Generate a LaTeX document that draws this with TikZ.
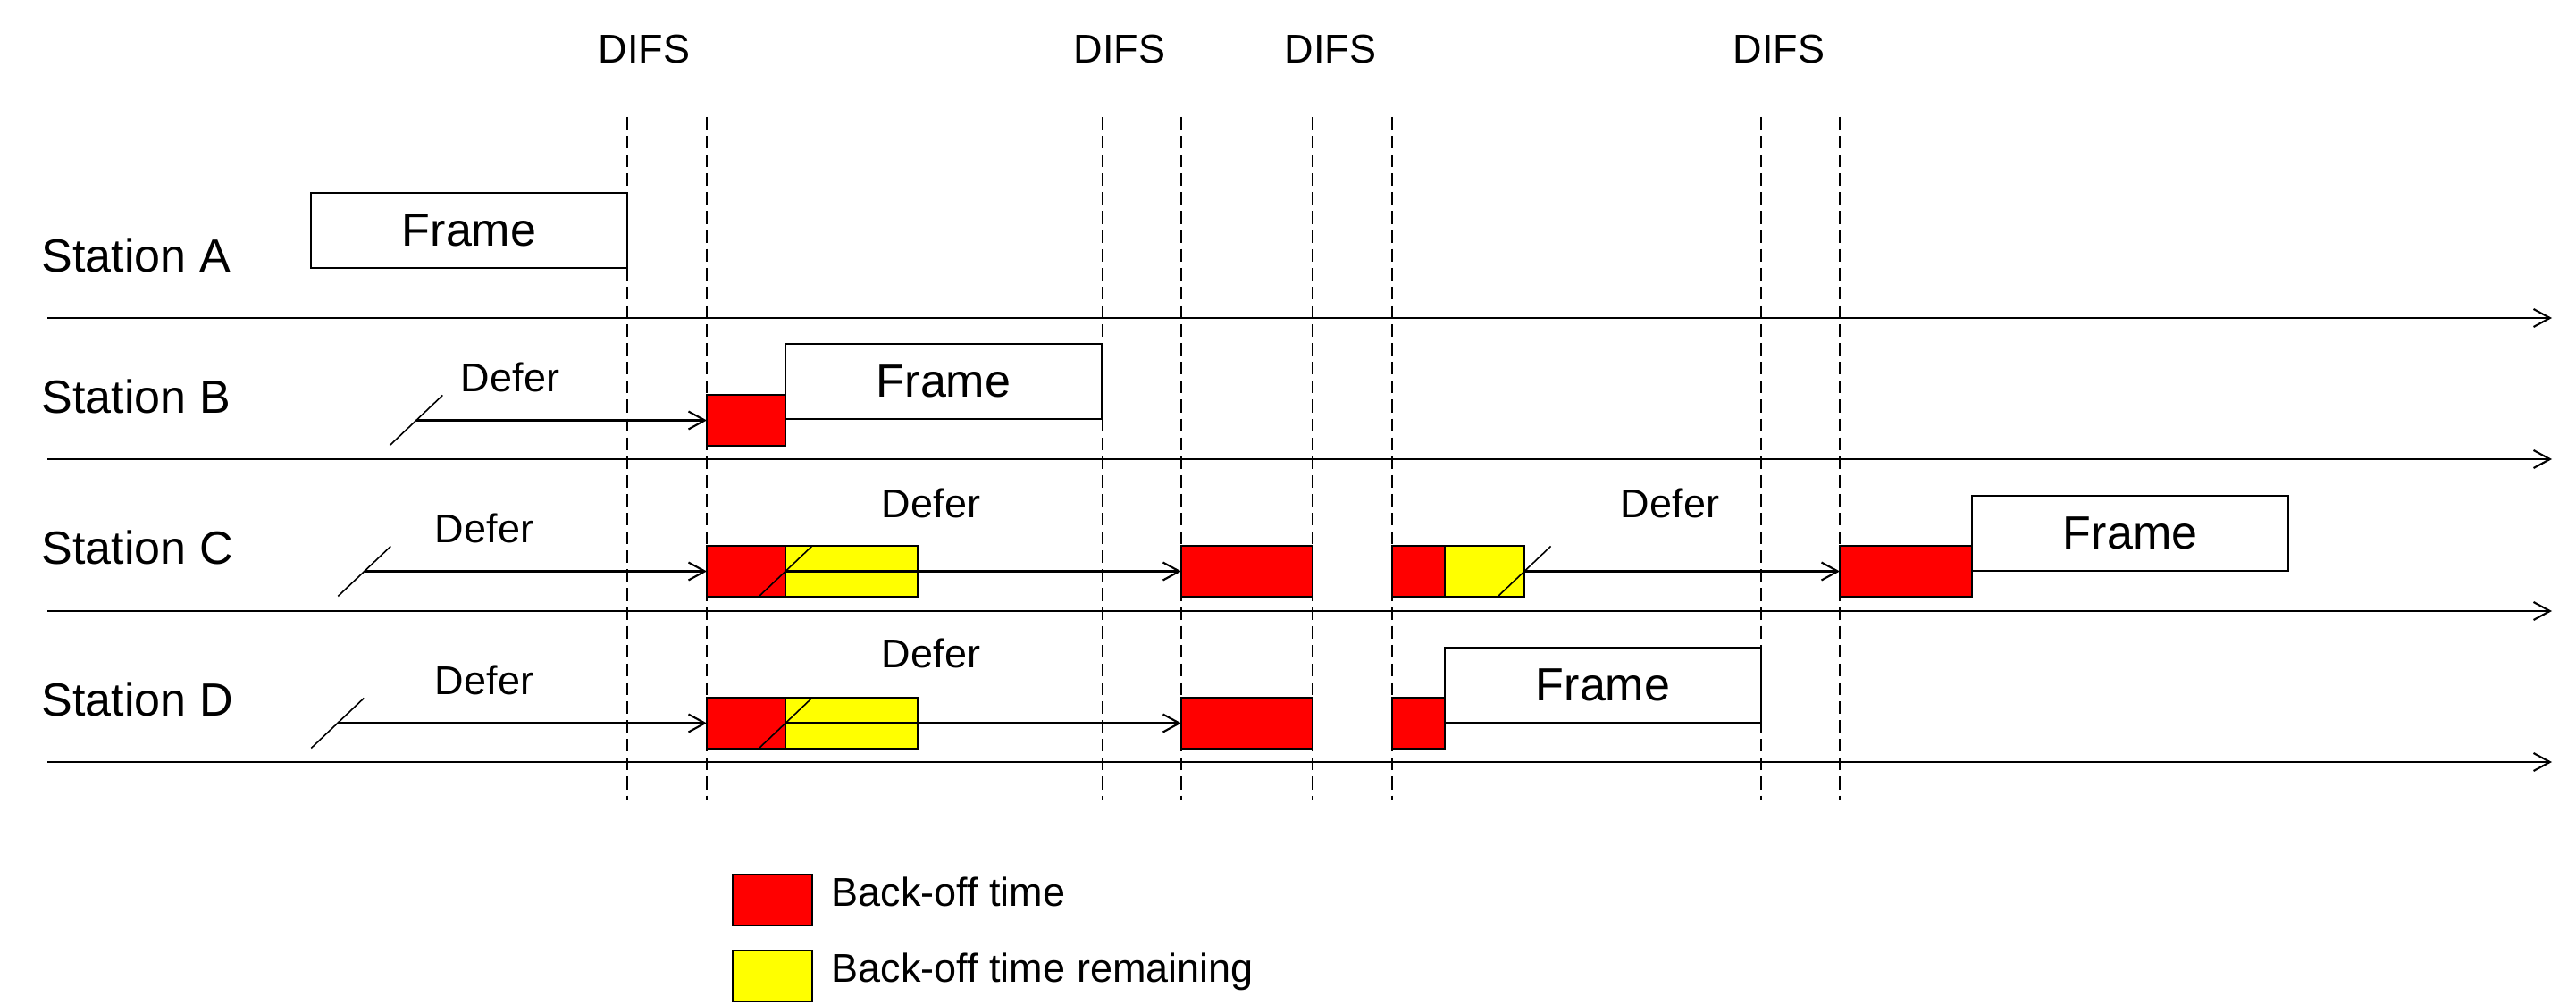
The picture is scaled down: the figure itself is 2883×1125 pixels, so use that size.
\documentclass[tikz,border=0pt]{standalone}
\usepackage{fontspec}
\setmainfont{Liberation Sans}
\usetikzlibrary{arrows.meta}
\newcommand\fbig{\fontsize{14.8pt}{17pt}\selectfont}
\newcommand\fsmall{\fontsize{12.8pt}{15pt}\selectfont}
\definecolor{bored}{RGB}{255,0,0}
\definecolor{boyel}{RGB}{255,255,0}
\begin{document}
\begin{tikzpicture}[x=0.01cm,y=-0.01cm,
  axis/.style={line width=0.6pt,-{Straight Barb[length=5.2pt,width=5.7pt]}},
  difs/.style={dash pattern=on 4pt off 2pt, line width=0.45pt},
  defarrow/.style={line width=0.6pt,-{Straight Barb[length=5.2pt,width=5.7pt]}},
  slash/.style={line width=0.45pt},
  framebox/.style={draw, line width=0.55pt, fill=white, minimum width=3.54cm, minimum height=0.84cm, inner sep=0pt, outer sep=0pt, anchor=north west, font=\fbig},
  rbox/.style={draw, line width=0.55pt, fill=bored, minimum height=0.57cm, inner sep=0pt, outer sep=0pt, anchor=north west},
  ybox/.style={rbox, fill=boyel},
  lbl/.style={font=\fsmall, inner sep=0pt, anchor=base},
  stn/.style={font=\fbig, inner sep=0pt, anchor=base west},
]
\useasboundingbox (0,0) rectangle (2883,1125);

% DIFS dashed lines
\foreach \x [count=\i] in {702,791,1234,1322,1469,1558,1971,2059} {
  \coordinate (t\i) at (\x,131);
  \coordinate (b\i) at (\x,895);
  \draw[difs] (t\i) -- (b\i);
}
\node[lbl] (d1) at (721,71) {DIFS};
\node[lbl] (d2) at (1253,71) {DIFS};
\node[lbl] (d3) at (1489,71) {DIFS};
\node[lbl] (d4) at (1991,71) {DIFS};

% time axes
\coordinate (aal) at (53,356);  \coordinate (aar) at (2856,356);
\coordinate (abl) at (53,514);  \coordinate (abr) at (2856,514);
\coordinate (acl) at (53,684);  \coordinate (acr) at (2856,684);
\coordinate (adl) at (53,853);  \coordinate (adr) at (2856,853);
\draw[axis] (aal) -- (aar);
\draw[axis] (abl) -- (abr);
\draw[axis] (acl) -- (acr);
\draw[axis] (adl) -- (adr);

% station labels
\node[stn] (sa) at (46,305) {Station A};
\node[stn] (sb) at (46,463) {Station B};
\node[stn] (sc) at (46,632) {Station C};
\node[stn] (sd) at (46,802) {Station D};

% Station A
\node[framebox] (fa) at (348,216) {Frame};

% Station B
\node[rbox, minimum width=0.88cm] (rb) at (791,442) {};
\node[framebox] (fb) at (879,385) {Frame};
\coordinate (bs) at ([xshift=-3.25cm]rb.west);
\draw[slash] ([shift={(-29.5,28)}]bs) -- ([shift={(29.5,-28)}]bs);
\draw[defarrow] (bs) -- (rb.west);
\node[lbl] (dfb) at (571,439) {Defer};

% Station C
\node[rbox, minimum width=0.88cm] (rc1) at (791,611) {};
\node[ybox, minimum width=1.48cm] (yc1) at (879,611) {};
\node[rbox, minimum width=1.47cm] (rc2) at (1322,611) {};
\node[rbox, minimum width=0.59cm] (rc3) at (1558,611) {};
\node[ybox, minimum width=0.89cm] (yc3) at (1617,611) {};
\node[rbox, minimum width=1.48cm] (rc4) at (2059,611) {};
\node[framebox] (fc) at (2207,555) {Frame};
\coordinate (cs) at ([xshift=-3.83cm]rc1.west);
\draw[slash] ([shift={(-29.5,28)}]cs) -- ([shift={(29.5,-28)}]cs);
\draw[defarrow] (cs) -- (rc1.west);
\draw[slash] ([shift={(-29.5,28)}]rc1.east) -- ([shift={(29.5,-28)}]rc1.east);
\draw[defarrow] (rc1.east) -- (rc2.west);
\draw[slash] ([shift={(-29.5,28)}]yc3.east) -- ([shift={(29.5,-28)}]yc3.east);
\draw[defarrow] (yc3.east) -- (rc4.west);
\node[lbl] (dfc1) at (542,608) {Defer};
\node[lbl] (dfc2) at (1042,580) {Defer};
\node[lbl] (dfc3) at (1869,580) {Defer};

% Station D
\node[rbox, minimum width=0.88cm] (rd1) at (791,781) {};
\node[ybox, minimum width=1.48cm] (yd1) at (879,781) {};
\node[rbox, minimum width=1.47cm] (rd2) at (1322,781) {};
\node[rbox, minimum width=0.59cm] (rd3) at (1558,781) {};
\node[framebox] (fd) at (1617,725) {Frame};
\coordinate (ds) at ([xshift=-4.13cm]rd1.west);
\draw[slash] ([shift={(-29.5,28)}]ds) -- ([shift={(29.5,-28)}]ds);
\draw[defarrow] (ds) -- (rd1.west);
\draw[slash] ([shift={(-29.5,28)}]rd1.east) -- ([shift={(29.5,-28)}]rd1.east);
\draw[defarrow] (rd1.east) -- (rd2.west);
\node[lbl] (dfd1) at (542,778) {Defer};
\node[lbl] (dfd2) at (1042,748) {Defer};

% legend
\node[rbox, minimum width=0.89cm] (lr) at (820,979) {};
\node[ybox, minimum width=0.89cm] (ly) at (820,1064) {};
\node[lbl, anchor=base west] (lrt) at (930,1015) {Back-off time};
\node[lbl, anchor=base west] (lyt) at (930,1100) {Back-off time remaining};
\end{tikzpicture}
\end{document}
